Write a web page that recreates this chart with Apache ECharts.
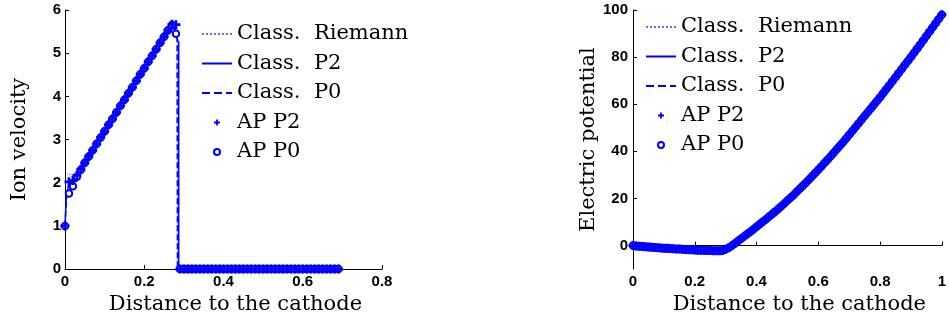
<!DOCTYPE html>
<html>
<head>
<meta charset="utf-8">
<title>Ion velocity / Electric potential</title>
<script src="https://cdn.jsdelivr.net/npm/echarts@6/dist/echarts.min.js"></script>
<style>
    html, body {
        margin: 0;
        padding: 0;
        background: #fff;
    }
    #chart {
        width: 949px;
        height: 320px;
    }
</style>
</head>
<body>
<div id="chart"></div>
<script>
// ---- data ----
// left panel: ion velocity, AP markers on a 0.01 grid
var velX = [
    0, 0.01, 0.02, 0.03, 0.04, 0.05, 0.06, 0.07, 0.08, 0.09,
    0.10, 0.11, 0.12, 0.13, 0.14, 0.15, 0.16, 0.17, 0.18, 0.19,
    0.20, 0.21, 0.22, 0.23, 0.24, 0.25, 0.26, 0.27, 0.28, 0.29,
    0.30, 0.31, 0.32, 0.33, 0.34, 0.35, 0.36, 0.37, 0.38, 0.39,
    0.40, 0.41, 0.42, 0.43, 0.44, 0.45, 0.46, 0.47, 0.48, 0.49,
    0.50, 0.51, 0.52, 0.53, 0.54, 0.55, 0.56, 0.57, 0.58, 0.59,
    0.60, 0.61, 0.62, 0.63, 0.64, 0.65, 0.66, 0.67, 0.68, 0.69
];
var velAPP2 = [
    1.00, 2.02, 2.05, 2.17, 2.31, 2.46, 2.61, 2.75, 2.90, 3.05,
    3.19, 3.34, 3.48, 3.63, 3.78, 3.92, 4.07, 4.21, 4.36, 4.51,
    4.65, 4.80, 4.94, 5.09, 5.24, 5.38, 5.53, 5.67, 5.66, 0,
    0, 0, 0, 0, 0, 0, 0, 0, 0, 0,
    0, 0, 0, 0, 0, 0, 0, 0, 0, 0,
    0, 0, 0, 0, 0, 0, 0, 0, 0, 0,
    0, 0, 0, 0, 0, 0, 0, 0, 0, 0
];
var velAPP0 = [
    1.00, 1.75, 1.92, 2.14, 2.30, 2.46, 2.61, 2.75, 2.90, 3.05,
    3.19, 3.34, 3.48, 3.63, 3.78, 3.92, 4.07, 4.21, 4.36, 4.51,
    4.65, 4.80, 4.94, 5.09, 5.24, 5.38, 5.53, 5.65, 5.45, 0,
    0, 0, 0, 0, 0, 0, 0, 0, 0, 0,
    0, 0, 0, 0, 0, 0, 0, 0, 0, 0,
    0, 0, 0, 0, 0, 0, 0, 0, 0, 0,
    0, 0, 0, 0, 0, 0, 0, 0, 0, 0
];
// classical solutions (lines), key points
var velP2LineX = [0, 0.003, 0.01, 0.02, 0.27, 0.276, 0.284, 0.287, 0.287, 0.695];
var velP2LineY = [1.0, 1.65, 2.0, 2.05, 5.67, 5.62, 5.3, 5.25, 0, 0];
var velP0LineX = [0, 0.004, 0.01, 0.02, 0.27, 0.278, 0.283, 0.284, 0.695];
var velP0LineY = [1.0, 1.7, 1.8, 1.95, 5.65, 5.5, 5.4, 0, 0];
var velRiemLineX = [0.005, 0.015, 0.02, 0.27, 0.28, 0.283, 0.283, 0.695];
var velRiemLineY = [2.2, 2.2, 2.1, 5.68, 5.6, 5.55, 0, 0];

// right panel: electric potential on a 0.01 grid
var potX = [
    0, 0.01, 0.02, 0.03, 0.04, 0.05, 0.06, 0.07, 0.08, 0.09,
    0.10, 0.11, 0.12, 0.13, 0.14, 0.15, 0.16, 0.17, 0.18, 0.19,
    0.20, 0.21, 0.22, 0.23, 0.24, 0.25, 0.26, 0.27, 0.28, 0.29,
    0.30, 0.31, 0.32, 0.33, 0.34, 0.35, 0.36, 0.37, 0.38, 0.39,
    0.40, 0.41, 0.42, 0.43, 0.44, 0.45, 0.46, 0.47, 0.48, 0.49,
    0.50, 0.51, 0.52, 0.53, 0.54, 0.55, 0.56, 0.57, 0.58, 0.59,
    0.60, 0.61, 0.62, 0.63, 0.64, 0.65, 0.66, 0.67, 0.68, 0.69,
    0.70, 0.71, 0.72, 0.73, 0.74, 0.75, 0.76, 0.77, 0.78, 0.79,
    0.80, 0.81, 0.82, 0.83, 0.84, 0.85, 0.86, 0.87, 0.88, 0.89,
    0.90, 0.91, 0.92, 0.93, 0.94, 0.95, 0.96, 0.97, 0.98, 0.99,
    1.00
];
var potY = [
    0.0, -0.15, -0.3, -0.4, -0.5, -0.6, -0.7, -0.8, -0.9, -1.0,
    -1.1, -1.2, -1.3, -1.35, -1.45, -1.5, -1.6, -1.65, -1.75, -1.8,
    -1.9, -1.95, -2.0, -2.05, -2.1, -2.15, -2.2, -2.2, -2.25, -2.1,
    -1.6, -0.9, -0.1, 0.9, 1.9, 2.9, 3.9, 4.9, 5.9, 6.9,
    8.0, 9.0, 10.1, 11.1, 12.2, 13.3, 14.4, 15.5, 16.7, 17.9,
    19.1, 20.3, 21.5, 22.8, 24.1, 25.4, 26.7, 28.0, 29.4, 30.8,
    32.2, 33.6, 35.0, 36.4, 37.9, 39.4, 40.9, 42.4, 43.9, 45.4,
    47.0, 48.6, 50.2, 51.8, 53.4, 55.0, 56.6, 58.2, 59.8, 61.4,
    63.0, 64.7, 66.4, 68.1, 69.8, 71.5, 73.2, 74.9, 76.6, 78.3,
    80.0, 81.8, 83.6, 85.4, 87.2, 89.0, 90.8, 92.6, 94.4, 96.2,
    98.0
];

var legendNames = ["Class.  Riemann", "Class.  P2", "Class.  P0", "AP P2", "AP P0"];
var velTicks = [0, 1, 2, 3, 4, 5, 6];
var potTicks = [0, 20, 40, 60, 80, 100];

// ---- helpers ----
var blue = "#0000ff";
var plusSymbol = "path://M3.5,0H6.5V3.5H10V6.5H6.5V10H3.5V6.5H0V3.5H3.5Z";
var serif = "DejaVu Serif";
var sans = "Liberation Sans";

function zip(xs, ys) {
    var out = [];
    for (var i = 0; i < xs.length; i++) {
        out.push([xs[i], ys[i]]);
    }
    return out;
}

function xAxisOf(idx, max) {
    return {
        gridIndex: idx,
        type: "value",
        min: 0,
        max: max,
        interval: 0.2,
        name: "Distance to the cathode",
        nameLocation: "middle",
        nameGap: 19,
        nameTextStyle: {
            fontFamily: serif,
            fontSize: 21,
            color: "#000",
            padding: [0, 0, 0, 24]
        },
        axisLine: { lineStyle: { color: "#000", width: 1 } },
        axisTick: { inside: true, length: 4, lineStyle: { color: "#000" } },
        splitLine: { show: false },
        axisLabel: {
            fontFamily: sans,
            fontWeight: "bold",
            fontSize: 15,
            color: "#000",
            margin: 5
        }
    };
}

function lineSeries(name, idx, data, type, width, color) {
    return {
        name: name,
        type: "line",
        xAxisIndex: idx,
        yAxisIndex: idx,
        data: data,
        symbol: "none",
        color: color,
        lineStyle: { type: type, width: width, color: color },
        z: 2
    };
}

function markSeries(name, idx, data, symbol) {
    var s = {
        name: name,
        type: "scatter",
        xAxisIndex: idx,
        yAxisIndex: idx,
        data: data,
        symbol: symbol,
        symbolSize: 9,
        color: blue,
        itemStyle: { color: blue, opacity: 1 },
        z: 4
    };
    if (symbol === "emptyCircle") {
        s.symbolSize = 6.5;
        s.z = 3;
        s.itemStyle = { color: blue, borderColor: blue, borderWidth: 2.5, opacity: 1 };
    }
    return s;
}

// line entries: hide the little symbol echarts puts on the legend line
var legendData = legendNames.map(function (n, i) {
    if (i < 3) {
        return { name: n, itemStyle: { opacity: 0 } };
    }
    if (i === 4) {
        return { name: n, itemStyle: { borderWidth: 1.8 } };
    }
    return { name: n };
});

var legendBase = {
    data: legendData,
    orient: "vertical",
    itemWidth: 30,
    itemHeight: 6,
    itemGap: 7.5,
    selectedMode: false,
    textStyle: {
        fontFamily: serif,
        fontSize: 21,
        color: "#000",
        lineHeight: 22
    }
};

var chart = echarts.init(document.getElementById("chart"), null, { renderer: "canvas" });
chart.setOption({
    animation: false,
    backgroundColor: "#fff",
    legend: [
        Object.assign({}, legendBase, { left: 196, top: 18 }),
        Object.assign({}, legendBase, { left: 640, top: 11 })
    ],
    grid: [
        { left: 65, top: 10, width: 317, height: 262 },
        { left: 633, top: 10, width: 316, height: 262 }
    ],
    xAxis: [xAxisOf(0, 0.8), xAxisOf(1, 1)],
    yAxis: [
        {
            gridIndex: 0,
            type: "value",
            min: 0,
            max: 6,
            interval: 1,
            name: "Ion velocity",
            nameLocation: "middle",
            nameGap: 35,
            nameTextStyle: { fontFamily: serif, fontSize: 21, color: "#000" },
            axisLine: { show: true, lineStyle: { color: "#000", width: 1 } },
            axisTick: { show: true, inside: true, length: 4, lineStyle: { color: "#000" } },
            splitLine: { show: false },
            axisLabel: {
                fontFamily: sans,
                fontWeight: "bold",
                fontSize: 15,
                color: "#000",
                margin: 4,
                customValues: velTicks
            }
        },
        {
            gridIndex: 1,
            type: "value",
            min: -10,
            max: 100,
            name: "Electric potential",
            nameLocation: "middle",
            nameGap: 33,
            nameTextStyle: { fontFamily: serif, fontSize: 21, color: "#000" },
            axisLine: { show: true, lineStyle: { color: "#000", width: 1 } },
            axisTick: {
                show: true,
                inside: true,
                length: 4,
                lineStyle: { color: "#000" },
                customValues: potTicks
            },
            splitLine: { show: false },
            axisLabel: {
                fontFamily: sans,
                fontWeight: "bold",
                fontSize: 15,
                color: "#000",
                margin: 5,
                customValues: potTicks
            }
        }
    ],
    series: [
        // left: ion velocity
        lineSeries(legendNames[0], 0, zip(velRiemLineX, velRiemLineY), "dotted", 1, "#6a6aff"),
        lineSeries(legendNames[1], 0, zip(velP2LineX, velP2LineY), "solid", 1.5, blue),
        lineSeries(legendNames[2], 0, zip(velP0LineX, velP0LineY), "dashed", 1.5, blue),
        markSeries(legendNames[3], 0, zip(velX, velAPP2), plusSymbol),
        markSeries(legendNames[4], 0, zip(velX, velAPP0), "emptyCircle"),
        // right: electric potential
        lineSeries(legendNames[0], 1, zip(potX, potY), "dotted", 1, "#6a6aff"),
        lineSeries(legendNames[1], 1, zip(potX, potY), "solid", 1.5, blue),
        lineSeries(legendNames[2], 1, zip(potX, potY), "dashed", 1.5, blue),
        markSeries(legendNames[3], 1, zip(potX, potY), plusSymbol),
        markSeries(legendNames[4], 1, zip(potX, potY), "emptyCircle")
    ]
});
</script>
</body>
</html>
